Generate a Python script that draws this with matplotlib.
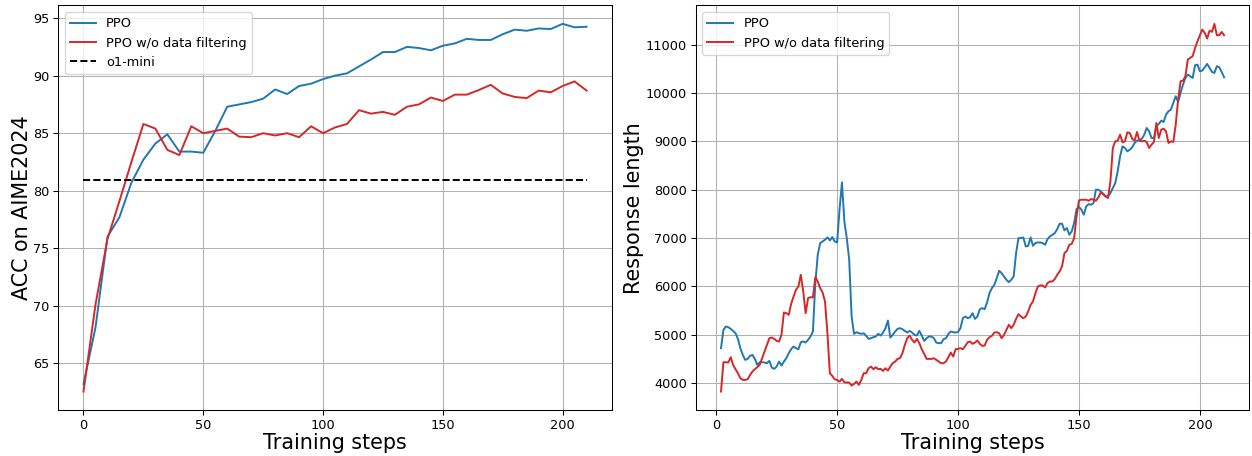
import numpy as np
import matplotlib
matplotlib.use("Agg")
import matplotlib.pyplot as plt

# left panel: accuracy every 5 steps
acc_steps = list(range(0, 211, 5))
acc_ppo = [63.2, 68.1, 76.0, 77.7, 80.7, 82.7, 84.1, 84.9, 83.4, 83.4,
           83.3, 85.2, 87.3, 87.5, 87.7, 88.0, 88.8, 88.4, 89.1, 89.3,
           89.7, 90.0, 90.2, 90.8, 91.4, 92.05, 92.05, 92.5, 92.4, 92.2,
           92.6, 92.8, 93.2, 93.1, 93.1, 93.6, 94.0, 93.9, 94.1, 94.05,
           94.5, 94.2, 94.25]
acc_nofilter = [62.55, 70.1, 75.8, 79.1, 82.5, 85.8, 85.4, 83.55, 83.1, 85.6,
                85.0, 85.2, 85.4, 84.7, 84.65, 85.0, 84.8, 85.0, 84.65, 85.6,
                85.0, 85.5, 85.8, 87.0, 86.7, 86.85, 86.6, 87.3, 87.5, 88.1,
                87.8, 88.35, 88.35, 88.75, 89.2, 88.45, 88.15, 88.05, 88.7, 88.55,
                89.1, 89.5, 88.7]
o1_mini = 80.9

# right panel: response length, steps 2..210
len_ppo = [4724, 5103, 5172, 5159, 5124, 5083, 5034, 4917, 4724, 4586,
           4483, 4503, 4566, 4586, 4503, 4379, 4434, 4434, 4428, 4414,
           4462, 4324, 4297, 4345, 4448, 4366, 4448, 4517, 4621, 4703,
           4759, 4724, 4703, 4848, 4862, 4841, 4897, 4966, 5069, 6069,
           6655, 6897, 6931, 6966, 7014, 6952, 7021, 6931, 6910, 7586,
           8152, 7345, 7000, 6552, 5379, 5021, 5055, 5034, 5021, 5034,
           4979, 4917, 4931, 4952, 4966, 5021, 4986, 5048, 5138, 5297,
           4945, 5000, 5069, 5124, 5138, 5117, 5083, 5048, 5083, 5048,
           5000, 4986, 5083, 4986, 4876, 4931, 4966, 4966, 4931, 4841,
           4828, 4828, 4910, 4931, 5021, 5069, 5055, 5048, 5060, 5138,
           5345, 5379, 5345, 5366, 5448, 5331, 5379, 5531, 5552, 5531,
           5669, 5862, 5966, 6034, 6172, 6324, 6276, 6207, 6138, 6090,
           6138, 6207, 6690, 7000, 7000, 7014, 6828, 6841, 7014, 6841,
           6897, 6910, 6910, 6897, 6862, 6979, 7034, 7069, 7103, 7186,
           7297, 7297, 7159, 7207, 7069, 7138, 7310, 7600, 7645, 7586,
           7483, 7655, 7703, 7690, 7724, 8000, 8000, 7966, 7917, 7862,
           7862, 7931, 8034, 8138, 8379, 8690, 8897, 8862, 8793, 8828,
           8876, 8966, 9014, 9021, 9055, 9138, 9276, 9207, 9069, 9069,
           9310, 9359, 9428, 9400, 9552, 9621, 9655, 9793, 9931, 9814,
           10000, 10172, 10310, 10379, 10345, 10310, 10572, 10586, 10448, 10462,
           10531, 10600, 10517, 10434, 10414, 10552, 10531, 10434, 10324]
len_nofilter = [3828, 4434, 4434, 4428, 4538, 4379, 4290, 4207, 4103, 4069,
                4069, 4083, 4172, 4241, 4290, 4331, 4379, 4517, 4655, 4793,
                4931, 4945, 4917, 4876, 4862, 5000, 5462, 5448, 5414, 5641,
                5793, 5931, 6000, 6241, 5897, 5448, 5759, 5779, 5772, 6193,
                6103, 5966, 5876, 5690, 5034, 4207, 4152, 4083, 4069, 4034,
                4090, 4021, 4014, 4014, 3952, 3986, 4034, 3966, 4069, 4207,
                4207, 4310, 4345, 4290, 4331, 4290, 4297, 4255, 4310, 4262,
                4345, 4414, 4448, 4503, 4517, 4621, 4793, 4931, 4986, 4897,
                4841, 4917, 4828, 4703, 4607, 4503, 4503, 4503, 4517, 4483,
                4448, 4414, 4414, 4448, 4538, 4634, 4552, 4703, 4710, 4724,
                4703, 4772, 4848, 4862, 4814, 4841, 4883, 4814, 4772, 4779,
                4897, 4952, 4979, 5048, 5055, 5034, 4931, 5000, 5103, 5207,
                5138, 5207, 5331, 5428, 5379, 5345, 5379, 5483, 5621, 5690,
                5862, 6000, 6021, 6021, 5979, 6069, 6103, 6103, 6152, 6241,
                6310, 6414, 6690, 6738, 6862, 6880, 7000, 7450, 7780, 7793,
                7793, 7793, 7772, 7807, 7793, 7772, 7841, 7945, 7910, 7862,
                7828, 8172, 8862, 9000, 9014, 9138, 8979, 9000, 9186, 9172,
                9055, 9014, 9193, 9014, 9000, 9014, 8986, 8862, 8931, 8986,
                9379, 9069, 9241, 9262, 9207, 8966, 9000, 8986, 9345, 9862,
                10241, 10255, 10345, 10690, 10724, 10759, 10931, 11069, 11193, 11310,
                11241, 11124, 11290, 11262, 11428, 11193, 11193, 11262, 11193]
len_steps = np.arange(2, 2 + len(len_ppo))

dpi = 93
fig, (ax1, ax2) = plt.subplots(1, 2, figsize=(1252 / dpi, 456 / dpi), dpi=dpi)
fig.subplots_adjust(left=0.0466, right=0.9978, bottom=0.101, top=0.988, wspace=0.152)

ax1.plot(acc_steps, acc_ppo, color="tab:blue", label="PPO")
ax1.plot(acc_steps, acc_nofilter, color="tab:red", label="PPO w/o data filtering")
ax1.plot([acc_steps[0], acc_steps[-1]], [o1_mini, o1_mini], "k--", label="o1-mini")
ax1.set_xlabel("Training steps", fontsize=16, labelpad=0.5)
ax1.set_ylabel("ACC on AIME2024", fontsize=16, labelpad=1)
ax1.grid(True)
ax1.legend(loc="upper left")

ax2.plot(len_steps, len_ppo, color="tab:blue", label="PPO")
ax2.plot(len_steps, len_nofilter, color="tab:red", label="PPO w/o data filtering")
ax2.set_xlabel("Training steps", fontsize=16, labelpad=0.5)
ax2.set_ylabel("Response length", fontsize=16, labelpad=1)
ax2.grid(True)
ax2.legend(loc="upper left")

plt.savefig("out.png", dpi=dpi)
